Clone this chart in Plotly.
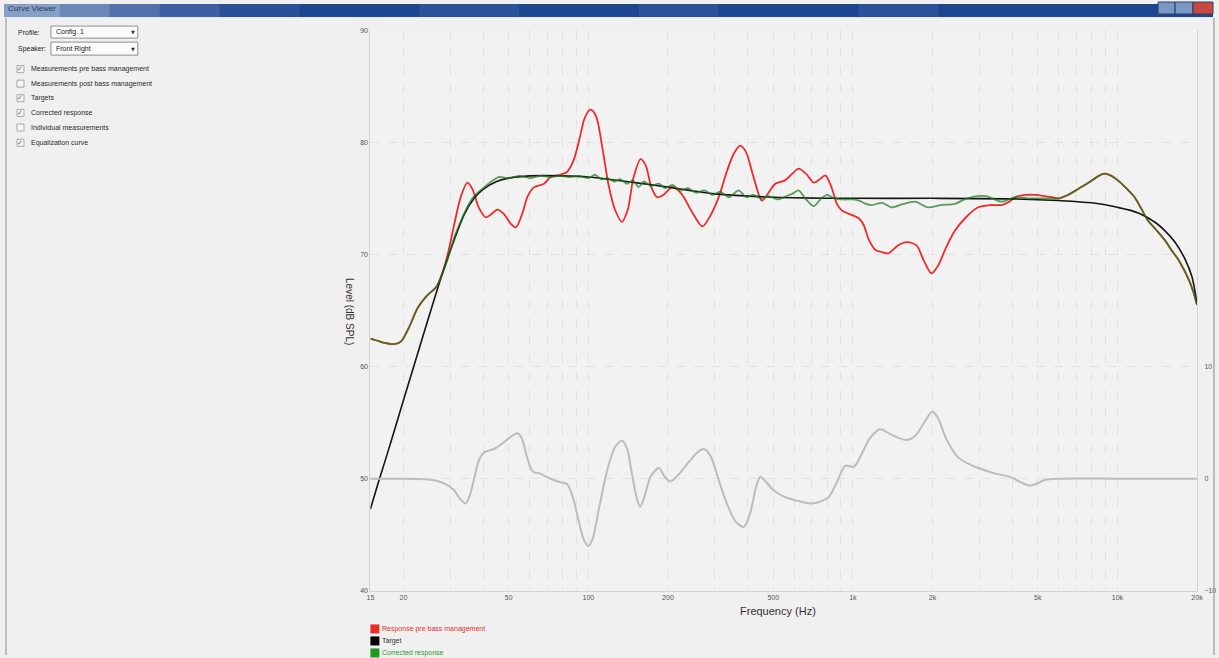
import plotly.graph_objects as go

W, H = 1219, 658

# ---------------- data ----------------
freq_pre = [15, 16, 17, 18.2, 19.5, 21, 22.6, 24.5, 26.6, 28, 29.4, 31, 33, 34.9, 36.5, 38.5, 41, 43, 45.3,
            48, 51, 53.2, 56, 59, 62.4, 68, 72, 78, 83, 88, 93, 97, 102, 107, 113, 119, 126, 134, 141, 148,
            157.5, 165, 173, 182, 192, 208, 225, 245, 270, 290, 311, 335, 355, 375, 395, 420, 453, 480, 509,
            554, 590, 624, 665, 712, 750, 787, 830, 870, 910, 995, 1055, 1100, 1150, 1218, 1290, 1362, 1480,
            1599, 1741, 1850, 1983, 2100, 2250, 2430, 2700, 2982, 3300, 3653, 3900, 4104, 4500, 4898, 5300,
            5660, 6000, 6500, 7080, 7800, 8500, 8930, 9500, 10040, 10800, 11620, 12300, 13070, 14000, 15140,
            16000, 17040, 18650, 19400, 20000]
level_pre = [62.5, 62.3, 62.1, 62.0, 62.2, 63.5, 65.2, 66.3, 67.1, 68.3, 70.0, 72.5, 75.2, 76.4, 75.8, 74.2,
             73.3, 73.6, 74.0, 73.6, 72.7, 72.4, 73.5, 75.2, 76.0, 76.3, 76.9, 77.1, 77.35, 78.4, 80.5, 82.2,
             82.9, 82.3, 79.5, 76.3, 74.0, 72.9, 74.0, 76.8, 78.5, 77.9, 76.0, 75.1, 75.3, 76.0, 75.4, 73.9,
             72.5, 73.5, 75.1, 77.5, 79.0, 79.7, 79.1, 77.0, 74.8, 75.5, 76.3, 76.6, 77.2, 77.65, 77.2, 76.4,
             76.7, 77.05, 76.0, 74.5, 73.9, 73.5, 73.2, 72.6, 71.3, 70.4, 70.2, 70.1, 70.8, 71.1, 70.8, 69.5,
             68.3, 69.0, 70.6, 72.1, 73.4, 74.2, 74.4, 74.4, 74.7, 75.1, 75.3, 75.3, 75.2, 75.1, 75.0, 75.3,
             75.8, 76.4, 77.0, 77.2, 77.0, 76.6, 75.9, 75.1, 74.1, 73.0, 72.2, 71.25, 70.4, 69.5, 67.7, 66.6,
             65.5]

freq_target = [15, 16, 17, 18, 20, 22, 25, 28, 31, 34, 37, 40, 45, 50, 60, 80, 100, 150, 200, 300, 500,
               1000, 2000, 4000, 6000, 8000, 10000, 12000, 14000, 15140, 16500, 18000, 19140, 20000]
level_target = [47.3, 49.5, 51.5, 53.4, 57.0, 60.2, 64.5, 68.2, 71.2, 73.6, 75.0, 75.8, 76.5, 76.8, 77.0,
                77.0, 76.9, 76.4, 76.0, 75.4, 75.1, 75.0, 75.0, 74.95, 74.8, 74.6, 74.2, 73.7, 72.8, 72.1,
                71.1, 69.6, 68.0, 65.6]

freq_corr = [15, 16, 17, 18.2, 19.5, 21, 22.6, 24.5, 26.6, 28, 29.4, 31, 33, 35, 37, 40, 43, 46, 50, 55,
             60, 66, 72, 78, 85, 92, 100, 106, 112, 118, 125, 132, 140, 147, 155, 162, 172, 185, 195, 208,
             222, 238, 255, 275, 295, 315, 340, 370, 395, 420, 450, 480, 520, 560, 590, 624, 660, 712, 760,
             800, 850, 920, 1000, 1055, 1120, 1180, 1290, 1400, 1550, 1720, 1920, 2150, 2430, 2700, 3180,
             3650, 4100, 4700, 5300, 6000, 6500, 7080, 7800, 8500, 8930, 9500, 10040, 10800, 11620, 12300,
             13070, 14000, 15140, 16000, 17040, 18650, 19400, 20000]
level_corr = [62.5, 62.3, 62.1, 62.0, 62.2, 63.5, 65.2, 66.3, 67.1, 68.2, 69.6, 71.4, 73.0, 74.3, 75.2,
              75.9, 76.5, 76.9, 76.8, 77.0, 76.8, 77.0, 76.9, 77.0, 76.9, 77.0, 76.8, 77.1, 76.7, 76.8,
              76.5, 76.7, 76.3, 76.6, 76.0, 76.5, 76.1, 76.3, 75.9, 76.2, 75.7, 75.9, 75.5, 75.7, 75.3,
              75.6, 75.1, 75.7, 75.1, 75.3, 75.0, 75.2, 74.9, 75.2, 75.4, 75.7, 75.0, 74.3, 75.0, 75.3,
              75.0, 74.9, 74.9, 74.8, 74.5, 74.4, 74.6, 74.2, 74.5, 74.7, 74.2, 74.4, 74.5, 75.0, 75.2,
              74.7, 75.1, 75.0, 75.0, 75.0, 75.3, 75.8, 76.4, 77.0, 77.2, 77.0, 76.6, 75.9, 75.1, 74.1,
              73.0, 72.2, 71.25, 70.4, 69.5, 67.7, 66.6, 65.5]

freq_eq = [15, 20, 24, 26.9, 29, 31, 33, 34.4, 35.5, 37, 38.5, 40.4, 42, 44, 47, 50, 53.9, 56, 58.5, 61,
           62.4, 65, 68, 72, 78.7, 83, 87, 92, 96, 100, 104, 110, 118, 126, 134, 140, 146, 152, 157, 163,
           172, 185, 194, 204, 220, 240, 260, 274, 290, 310, 335, 360, 387, 410, 430, 447, 470, 500, 549,
           600, 702, 808, 870, 938, 1010, 1080, 1160, 1265, 1380, 1500, 1599, 1720, 1850, 1995, 2100, 2250,
           2500, 2750, 2982, 3400, 3975, 4300, 4680, 5000, 5330, 6000, 10000, 20000]
gain_eq = [0.0, 0.0, -0.05, -0.2, -0.5, -1.0, -1.9, -2.2, -1.6, 0.0, 1.6, 2.35, 2.5, 2.65, 3.1, 3.6, 4.05,
           3.6, 2.0, 0.8, 0.56, 0.5, 0.27, 0.0, -0.33, -0.47, -1.5, -3.8, -5.4, -6.0, -5.3, -2.5, 0.8, 2.8,
           3.4, 2.7, 0.5, -1.6, -2.5, -1.6, 0.2, 0.95, 0.2, -0.24, 0.4, 1.5, 2.4, 2.65, 2.0, 0.0, -2.3, -3.8,
           -4.3, -3.0, -0.8, 0.18, -0.3, -1.0, -1.6, -1.9, -2.2, -1.67, -0.3, 1.16, 1.07, 2.2, 3.6, 4.4, 4.0,
           3.6, 3.45, 3.8, 4.9, 6.0, 5.4, 3.6, 1.9, 1.3, 0.95, 0.5, 0.12, -0.3, -0.62, -0.4, -0.1, 0.0, 0.0,
           0.0]

x_grid_vals = [15, 20, 30, 40, 50, 60, 70, 80, 90, 100, 200, 300, 400, 500, 600, 700, 800, 900, 1000,
               2000, 3000, 4000, 5000, 6000, 7000, 8000, 9000, 10000, 20000]
x_labels = {15: "15", 20: "20", 50: "50", 100: "100", 200: "200", 500: "500", 1000: "1k",
            2000: "2k", 5000: "5k", 10000: "10k", 20000: "20k"}
y_left_ticks = [40, 50, 60, 70, 80, 90]
y_right_ticks = [-10, 0, 10]

legend_names = ["Response pre bass management", "Target", "Corrected response"]
checkbox_labels = ["Measurements pre bass management", "Measurements post bass management", "Targets",
                   "Corrected response", "Individual measurements", "Equalization curve"]
checkbox_state = [True, False, True, True, False, True]

RED = "#ee2b2b"
GREEN = "#1f7a1f"
BLACK = "#151515"
GRAY = "#bcbcbc"
FONT = "Liberation Sans"

# the captured picture shows the page with a small inset; compensate so the
# layout lands on the reference pixel positions
PAD = 4.0
SX = W / (W + 2 * PAD)
SY = H / (H + 2 * PAD)


def px(x):
    return ((x - PAD * SX) / SX) / W


def py(y):
    return 1 - ((y - PAD * SY) / SY) / H


fig = go.Figure()

fig.add_trace(go.Scatter(x=freq_eq, y=gain_eq, yaxis="y2", mode="lines",
                         line=dict(color=GRAY, width=2, shape="spline", smoothing=0.8),
                         showlegend=False, hoverinfo="skip"))
fig.add_trace(go.Scatter(x=freq_pre, y=level_pre, mode="lines",
                         line=dict(color=RED, width=1.8, shape="spline", smoothing=0.8), showlegend=False))
fig.add_trace(go.Scatter(x=freq_target, y=level_target, mode="lines",
                         line=dict(color=BLACK, width=1.6, shape="spline", smoothing=0.8), showlegend=False))
fig.add_trace(go.Scatter(x=freq_corr, y=level_corr, mode="lines", opacity=0.72,
                         line=dict(color=GREEN, width=1.8, shape="spline", smoothing=0.8), showlegend=False))

x0p, x1p = px(371), px(1199)
y0p, y1p = py(590), py(30)

fig.update_layout(
    width=W, height=H, autosize=False,
    margin=dict(l=0, r=0, t=0, b=0),
    paper_bgcolor="#f0f0f0", plot_bgcolor="#f2f2f2",
    font=dict(family=FONT, size=7, color="#555555"),
    xaxis=dict(type="log", range=[1.17609, 4.30103], domain=[x0p, x1p],
               tickvals=x_grid_vals, ticktext=[x_labels.get(v, "") for v in x_grid_vals],
               showgrid=True, gridcolor="#e2e2e2", griddash="dash", gridwidth=1,
               showline=True, linecolor="#d4d4d4", linewidth=1, zeroline=False,
               ticks="", tickfont=dict(size=7, color="#555555"), fixedrange=True),
    yaxis=dict(range=[40, 90], domain=[y0p, y1p], tickvals=y_left_ticks,
               showgrid=True, gridcolor="#e2e2e2", griddash="dash", gridwidth=1,
               showline=True, linecolor="#d4d4d4", linewidth=1, zeroline=False,
               ticks="", tickfont=dict(size=7, color="#555555"), fixedrange=True),
    yaxis2=dict(range=[-10, 40], overlaying="y", side="right", tickvals=y_right_ticks,
                showgrid=False, showline=True, linecolor="#d4d4d4", linewidth=1, zeroline=False,
                ticks="", ticklabelstandoff=5, tickfont=dict(size=7, color="#555555"), fixedrange=True),
    showlegend=False,
)

shapes = []
ann = []

# title bar
shapes.append(dict(type="rect", xref="paper", yref="paper", x0=0, x1=1, y0=py(17), y1=1,
                   fillcolor="#1d4690", line=dict(width=0), layer="above"))
for a, b, op in [(0, 60, 0.6), (60, 110, 0.45), (110, 160, 0.3), (160, 220, 0.18), (220, 300, 0.08)]:
    shapes.append(dict(type="rect", xref="paper", yref="paper", x0=max(px(a), 0), x1=px(b), y0=py(17), y1=1,
                       fillcolor=f"rgba(205,218,236,{op})", line=dict(width=0), layer="above"))
for a, b in [(420, 520), (640, 720), (860, 940)]:
    shapes.append(dict(type="rect", xref="paper", yref="paper", x0=px(a), x1=px(b), y0=py(17), y1=1,
                       fillcolor="rgba(120,160,215,0.15)", line=dict(width=0), layer="above"))
shapes.append(dict(type="line", xref="paper", yref="paper", x0=0, x1=1, y0=py(17.5), y1=py(17.5),
                   line=dict(color="#e4e9f2", width=1), layer="above"))
ann.append(dict(text="Curve Viewer", x=px(6), y=py(8.5), xref="paper", yref="paper", xanchor="left",
                yanchor="middle", showarrow=False, font=dict(size=8, color="#2b3856", family=FONT)))
# window buttons
for a, b, col in [(1160, 1177, "#7b97c6"), (1177, 1195, "#7b97c6"), (1195, 1215, "#c9483f")]:
    shapes.append(dict(type="rect", xref="paper", yref="paper", x0=px(a), x1=px(b), y0=py(14), y1=py(2),
                       fillcolor=col, line=dict(color="#2a3f66", width=1), layer="above"))

# window borders
shapes.append(dict(type="line", xref="paper", yref="paper", x0=px(6), x1=px(6), y0=0, y1=py(18),
                   line=dict(color="#8a8a8a", width=1)))
shapes.append(dict(type="line", xref="paper", yref="paper", x0=px(1216), x1=px(1216), y0=0, y1=py(18),
                   line=dict(color="#8a8a8a", width=1)))

# left panel: dropdowns
for label, val, yc, yt, yb in [("Profile:", "Config. 1", 32, 26, 38), ("Speaker:", "Front Right", 48.5, 42, 55)]:
    ann.append(dict(text=label, x=px(16), y=py(yc), xref="paper", yref="paper", xanchor="left",
                    yanchor="middle", showarrow=False, font=dict(size=7, color="#222222", family=FONT)))
    shapes.append(dict(type="rect", xref="paper", yref="paper", x0=px(51), x1=px(138), y0=py(yb), y1=py(yt),
                       fillcolor="#fbfbfb", line=dict(color="#8f8f8f", width=1)))
    ann.append(dict(text=val, x=px(54), y=py(yc), xref="paper", yref="paper", xanchor="left",
                    yanchor="middle", showarrow=False, font=dict(size=7, color="#222222", family=FONT)))
    ann.append(dict(text="▼", x=px(133), y=py(yc), xref="paper", yref="paper", xanchor="center",
                    yanchor="middle", showarrow=False, font=dict(size=5, color="#333333", family="DejaVu Sans")))

# checkboxes
for lab, st, yc in zip(checkbox_labels, checkbox_state, [69, 83.5, 98, 112.7, 127.3, 142.5]):
    shapes.append(dict(type="rect", xref="paper", yref="paper", x0=px(17), x1=px(24), y0=py(yc + 3.5),
                       y1=py(yc - 3.5), fillcolor="#f6f6f6", line=dict(color="#a8a8a8", width=1)))
    if st:
        ann.append(dict(text="✓", x=px(20.5), y=py(yc), xref="paper", yref="paper", xanchor="center",
                        yanchor="middle", showarrow=False, font=dict(size=7, color="#6a6a6a", family="DejaVu Sans")))
    ann.append(dict(text=lab, x=px(29), y=py(yc), xref="paper", yref="paper", xanchor="left",
                    yanchor="middle", showarrow=False, font=dict(size=7, color="#2a2a2a", family=FONT)))

# axis titles
ann.append(dict(text="Frequency (Hz)", x=px(779), y=py(610), xref="paper", yref="paper", xanchor="center",
                yanchor="middle", showarrow=False, font=dict(size=11, color="#333333", family=FONT)))
ann.append(dict(text="Level (dB SPL)", x=px(350), y=py(311), xref="paper", yref="paper", xanchor="center",
                yanchor="middle", textangle=90, showarrow=False, font=dict(size=10, color="#333333", family=FONT)))

# legend
for name, col, tcol, yc in zip(legend_names, [RED, "#000000", "#1f9a1f"], [RED, "#333333", "#2a9a2a"], [628, 640, 652]):
    shapes.append(dict(type="rect", xref="paper", yref="paper", x0=px(371), x1=px(380), y0=py(yc + 4.5),
                       y1=py(yc - 4.5), fillcolor=col, line=dict(width=0)))
    ann.append(dict(text=name, x=px(381), y=py(yc), xref="paper", yref="paper", xanchor="left",
                    yanchor="middle", showarrow=False, font=dict(size=7, color=tcol, family=FONT)))

fig.update_layout(shapes=shapes, annotations=ann)

post = ("var gd=document.getElementById('{plot_id}');"
        "document.documentElement.style.margin='0';document.documentElement.style.padding='0';"
        "document.documentElement.style.overflow='hidden';"
        "document.body.style.margin='0';document.body.style.padding='0';document.body.style.overflow='hidden';"
        "gd.style.position='fixed';gd.style.left='0px';gd.style.top='0px';")

fig.write_html("out.html", config={"displayModeBar": False}, post_script=post)
